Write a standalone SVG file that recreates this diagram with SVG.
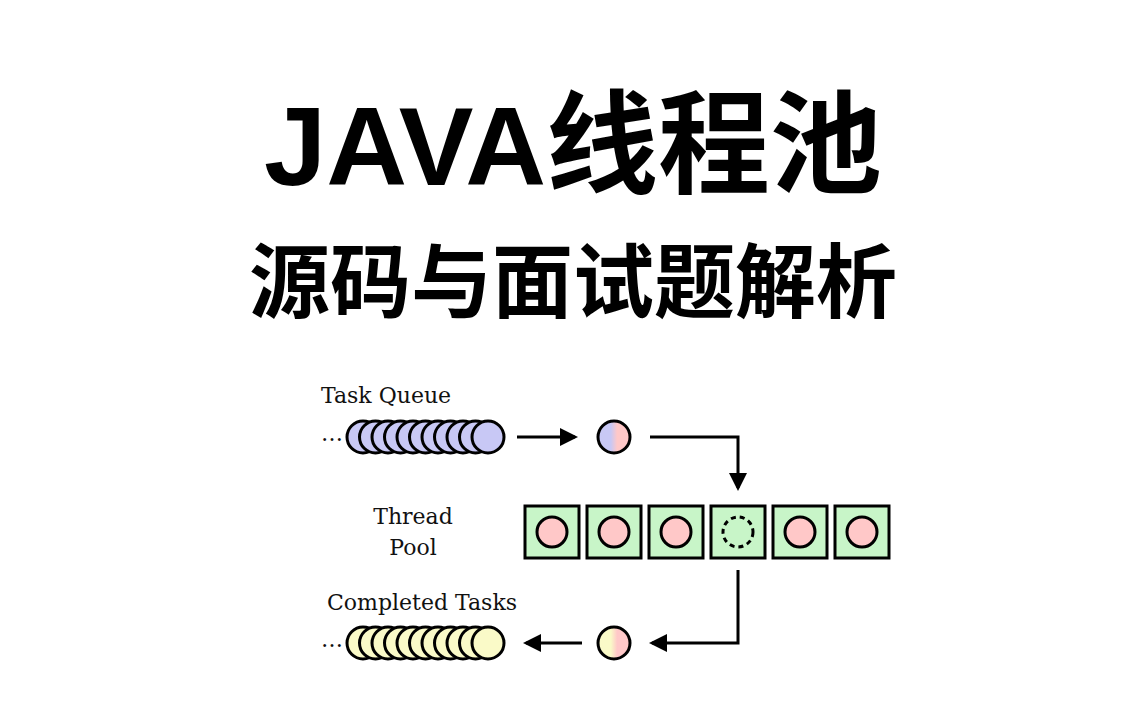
<svg xmlns="http://www.w3.org/2000/svg" width="1146" height="717" viewBox="0 0 1146 717">
<style>
.t{font-family:"Liberation Sans","Noto Sans CJK SC",sans-serif;font-weight:bold;fill:#000;text-anchor:middle}
.l{font-family:"DejaVu Serif","Liberation Serif",serif;font-size:22px;fill:#111}
.q{stroke:#000;stroke-width:3}
.box{fill:#c8f5c8;stroke:#000;stroke-width:3}
.th{fill:#ffc8c8;stroke:#000;stroke-width:3}
.ln{fill:none;stroke:#000;stroke-width:3}
</style>
<defs>
<marker id="ah" markerWidth="6" markerHeight="6" refX="5" refY="3" orient="auto" markerUnits="strokeWidth"><path d="M0,0 L6,3 L0,6 z" fill="#000"/></marker>
<linearGradient id="bp"><stop offset="0.4" stop-color="#c8c8f5"/><stop offset="0.6" stop-color="#ffc8c8"/></linearGradient>
<linearGradient id="yp"><stop offset="0.4" stop-color="#fafac8"/><stop offset="0.6" stop-color="#ffc8c8"/></linearGradient>
</defs>
<rect width="1146" height="717" fill="#fff"/>
<text class="t" x="573" y="185" font-size="112">JAVA线程池</text>
<text class="t" x="573" y="311" font-size="81">源码与面试题解析</text>
<text class="l" x="321" y="403">Task Queue</text>
<text class="l" x="413" y="524" text-anchor="middle">Thread</text>
<text class="l" x="413" y="555" text-anchor="middle">Pool</text>
<text class="l" x="327" y="610">Completed Tasks</text>
<text class="l" x="321" y="441">…</text>
<text class="l" x="321" y="647">…</text>
<g id="queue" class="q" fill="#c8c8f5">
<circle cx="363" cy="437" r="16"/><circle cx="375.5" cy="437" r="16"/><circle cx="388" cy="437" r="16"/><circle cx="400.5" cy="437" r="16"/><circle cx="413" cy="437" r="16"/><circle cx="425.5" cy="437" r="16"/><circle cx="438" cy="437" r="16"/><circle cx="450.5" cy="437" r="16"/><circle cx="463" cy="437" r="16"/><circle cx="475.5" cy="437" r="16"/><circle cx="488" cy="437" r="16"/>
</g>
<g id="completed" class="q" fill="#fafac8">
<circle cx="363" cy="643" r="16"/><circle cx="375.5" cy="643" r="16"/><circle cx="388" cy="643" r="16"/><circle cx="400.5" cy="643" r="16"/><circle cx="413" cy="643" r="16"/><circle cx="425.5" cy="643" r="16"/><circle cx="438" cy="643" r="16"/><circle cx="450.5" cy="643" r="16"/><circle cx="463" cy="643" r="16"/><circle cx="475.5" cy="643" r="16"/><circle cx="488" cy="643" r="16"/>
</g>
<g id="task-in"><circle cx="614" cy="437" r="16" fill="url(#bp)" class="q"/></g>
<g id="task-out"><circle cx="614" cy="643" r="16" fill="url(#yp)" class="q"/></g>
<g id="pool">
<rect class="box" x="525" y="506" width="54" height="52"/><circle class="th" cx="552" cy="532" r="15"/>
<rect class="box" x="587" y="506" width="54" height="52"/><circle class="th" cx="614" cy="532" r="15"/>
<rect class="box" x="649" y="506" width="54" height="52"/><circle class="th" cx="676" cy="532" r="15"/>
<rect class="box" x="711" y="506" width="54" height="52"/><circle cx="738" cy="532" r="15" fill="none" stroke="#000" stroke-width="3" stroke-dasharray="5,4"/>
<rect class="box" x="773" y="506" width="54" height="52"/><circle class="th" cx="800" cy="532" r="15"/>
<rect class="box" x="835" y="506" width="54" height="52"/><circle class="th" cx="862" cy="532" r="15"/>
</g>
<g id="connectors" class="ln">
<path d="M517,437 H575" marker-end="url(#ah)"/>
<path d="M650,437 H738 V488" marker-end="url(#ah)"/>
<path d="M738,570 V643 H652" marker-end="url(#ah)"/>
<path d="M582,643 H526" marker-end="url(#ah)"/>
</g>
</svg>
